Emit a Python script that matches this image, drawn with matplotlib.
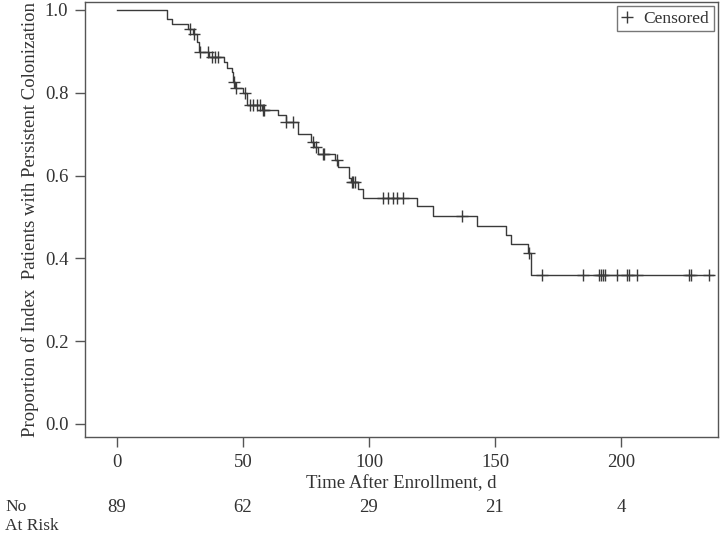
import numpy as np
import matplotlib
matplotlib.use("Agg")
import matplotlib.pyplot as plt
from matplotlib.lines import Line2D

# Kaplan-Meier step curve
step_times = [0, 20.0, 22.0, 28.3, 30.0, 31.8, 32.7, 36.5, 42.5, 43.5, 45.5, 46.0, 46.8,
              50.1, 51.5, 57.4, 64.0, 67.1, 72.0, 77.0, 78.2, 79.8, 86.5, 87.6, 92.2,
              93.0, 95.8, 97.7, 119.2, 125.5, 143.0, 154.4, 156.2, 163.1, 164.3]
step_surv = [1.0, 0.978, 0.966, 0.955, 0.943, 0.923, 0.899, 0.887, 0.875, 0.860, 0.850,
             0.827, 0.812, 0.800, 0.771, 0.758, 0.746, 0.730, 0.700, 0.682, 0.668, 0.652,
             0.638, 0.620, 0.593, 0.585, 0.567, 0.547, 0.526, 0.503, 0.479, 0.456, 0.434,
             0.412, 0.360]
end_time = 236.6

censor_times = [28.8, 30.5, 32.9, 36.1, 37.6, 38.9, 40.2, 46.4, 47.1, 50.8, 52.6, 53.9,
                55.4, 56.7, 57.8, 58.5, 67.1, 70.0, 77.7, 79.0, 81.6, 82.1, 87.2, 93.1,
                93.8, 94.4, 105.7, 107.7, 109.7, 111.0, 113.4, 136.8, 163.3, 168.5, 185.0,
                191.3, 191.9, 192.7, 193.8, 198.3, 202.5, 203.3, 206.2, 227.1, 227.8, 235.0]

xticks = [0, 50, 100, 150, 200]
yticks = [0.0, 0.2, 0.4, 0.6, 0.8, 1.0]
at_risk = [89, 62, 29, 21, 4]

plt.rcParams['font.family'] = ['Liberation Serif', 'DejaVu Serif']
FS = 13.5
col = '#3a3a3a'
txtcol = '#333333'

fig = plt.figure(figsize=(7.2, 5.34), dpi=100)
ax = fig.add_axes([85/720, 1-437/534, (718-85)/720, (437-2)/534])

t = list(step_times) + [end_time]
s = list(step_surv) + [step_surv[-1]]
ax.step(t, s, where='post', color=col, lw=1.0)

idx = np.searchsorted(step_times, censor_times, side='right') - 1
cy = np.array(step_surv)[idx]
ax.plot(censor_times, cy, linestyle='none', marker='+', markersize=9, mew=1.0, color=col)

ax.set_xlim((85-117)/2.52, (718-117)/2.52)
ax.set_ylim((424-437)/414, (424-2)/414)
ax.set_xticks(xticks)
ax.set_yticks(yticks)
ax.set_xticklabels([str(v) for v in xticks], fontsize=FS, color=txtcol)
ax.set_yticklabels([f"{v:.1f}" for v in yticks], fontsize=FS, color=txtcol)
ax.tick_params(direction='out', length=7, width=1, color='#555555', pad=5)
ax.tick_params(axis='x', pad=5)
for sp in ax.spines.values():
    sp.set_color('#555555')
    sp.set_linewidth(1.0)

ax.set_xlabel('Time After Enrollment, d', fontsize=FS, labelpad=3, color=txtcol)
ax.set_ylabel('Proportion of Index  Patients with Persistent Colonization', fontsize=FS,
              labelpad=4, color=txtcol)

handle = Line2D([], [], linestyle='none', marker='+', markersize=8, mew=1.0, color=col)
leg = ax.legend([handle], ['Censored'], loc='upper right', fontsize=12.5, frameon=True,
                fancybox=False, edgecolor='#555555', handlelength=0.7, handletextpad=0.6,
                borderpad=0.25, borderaxespad=0.25)
leg.get_frame().set_linewidth(1.0)
for txt in leg.get_texts():
    txt.set_color(txtcol)

# number at risk
for xv, n in zip(xticks, at_risk):
    ax.annotate(str(n), xy=(xv, 0), xycoords=('data', 'figure fraction'),
                xytext=(0, 534-512), textcoords='offset pixels',
                ha='center', va='baseline', fontsize=FS, color=txtcol)
fig.text(5/720, 1-511/534, 'No', ha='left', va='baseline', fontsize=12.5, color=txtcol)
fig.text(5/720, 1-530/534, 'At Risk', ha='left', va='baseline', fontsize=12.5, color=txtcol)

fig.savefig('out.png', dpi=100)
